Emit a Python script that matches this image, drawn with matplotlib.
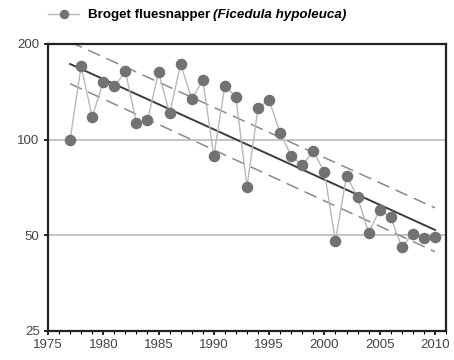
import numpy as np
import matplotlib.pyplot as plt
from matplotlib.ticker import FixedLocator, MultipleLocator, NullFormatter, NullLocator

# Index values
years = list(range(1977, 2011))
index = [100, 170, 118, 152, 147, 164, 113, 115, 163, 121,
         173, 134, 154, 89, 148, 136, 71, 126, 133, 105,
         89, 83, 92, 79, 48, 77, 66, 51, 60, 57,
         46, 50.5, 49, 49.5]

# trend and its bands, at the first and last year
trend_years = [1977, 2010]
trend = [173, 52]
upper = [203, 61]
lower = [150, 44.4]

species = "Broget fluesnapper"
latin = "(Ficedula hypoleuca)"

plt.rcParams["font.family"] = ["Liberation Sans", "DejaVu Sans"]

fig = plt.figure(figsize=(4.54, 3.6), dpi=100)
ax = fig.add_axes([0.1057, 0.0806, 0.8767, 0.7972])

for v in [50, 100]:
    ax.axhline(v, color="#c4c4c4", lw=1.4, zorder=1)

ax.plot(trend_years, upper, color="#8a8a8a", lw=1.1, ls=(0, (8.5, 4.5)), zorder=2)
ax.plot(trend_years, lower, color="#8a8a8a", lw=1.1, ls=(0, (8.5, 4.5)), zorder=2)
ax.plot(trend_years, trend, color="#3c3c3c", lw=1.4, zorder=3)
ln, = ax.plot(years, index, color="#b8b8b8", lw=1.0, marker="o", ms=7.3,
              mfc="#727272", mec="#727272", zorder=4)

ax.set_yscale("log")
ax.set_ylim(25, 200)
ax.set_xlim(1975, 2011)
ax.yaxis.set_major_locator(FixedLocator([25, 50, 100, 200]))
ax.yaxis.set_minor_locator(NullLocator())
ax.set_yticklabels(["25", "50", "100", "200"])
ax.yaxis.set_minor_formatter(NullFormatter())
ax.xaxis.set_major_locator(FixedLocator(list(range(1975, 2011, 5))))
ax.xaxis.set_minor_locator(MultipleLocator(1))

for s in ax.spines.values():
    s.set_color("#222222")
    s.set_linewidth(1.6)
ax.tick_params(axis="both", which="major", length=3, width=1.2,
               labelsize=9.5, labelcolor="#444444", direction="out", pad=3)
ax.tick_params(axis="x", which="minor", length=2, width=0.8)

leg = fig.legend(handles=[ln], labels=[species], loc="center left",
                 bbox_to_anchor=(48 / 454, 1 - 15 / 360), frameon=False,
                 prop={"weight": "bold", "size": 9.6}, handlelength=2.35,
                 handletextpad=0.65, borderaxespad=0, borderpad=0,
                 markerscale=0.8)
fig.canvas.draw()
bb = leg.get_texts()[0].get_window_extent()
x0, y0 = fig.transFigure.inverted().transform((bb.x1, bb.y0))
fig.text(x0 + 0.007, y0, latin, fontsize=9.6, fontweight="bold",
         fontstyle="italic", va="bottom", ha="left")

fig.savefig("out.png", dpi=100)
